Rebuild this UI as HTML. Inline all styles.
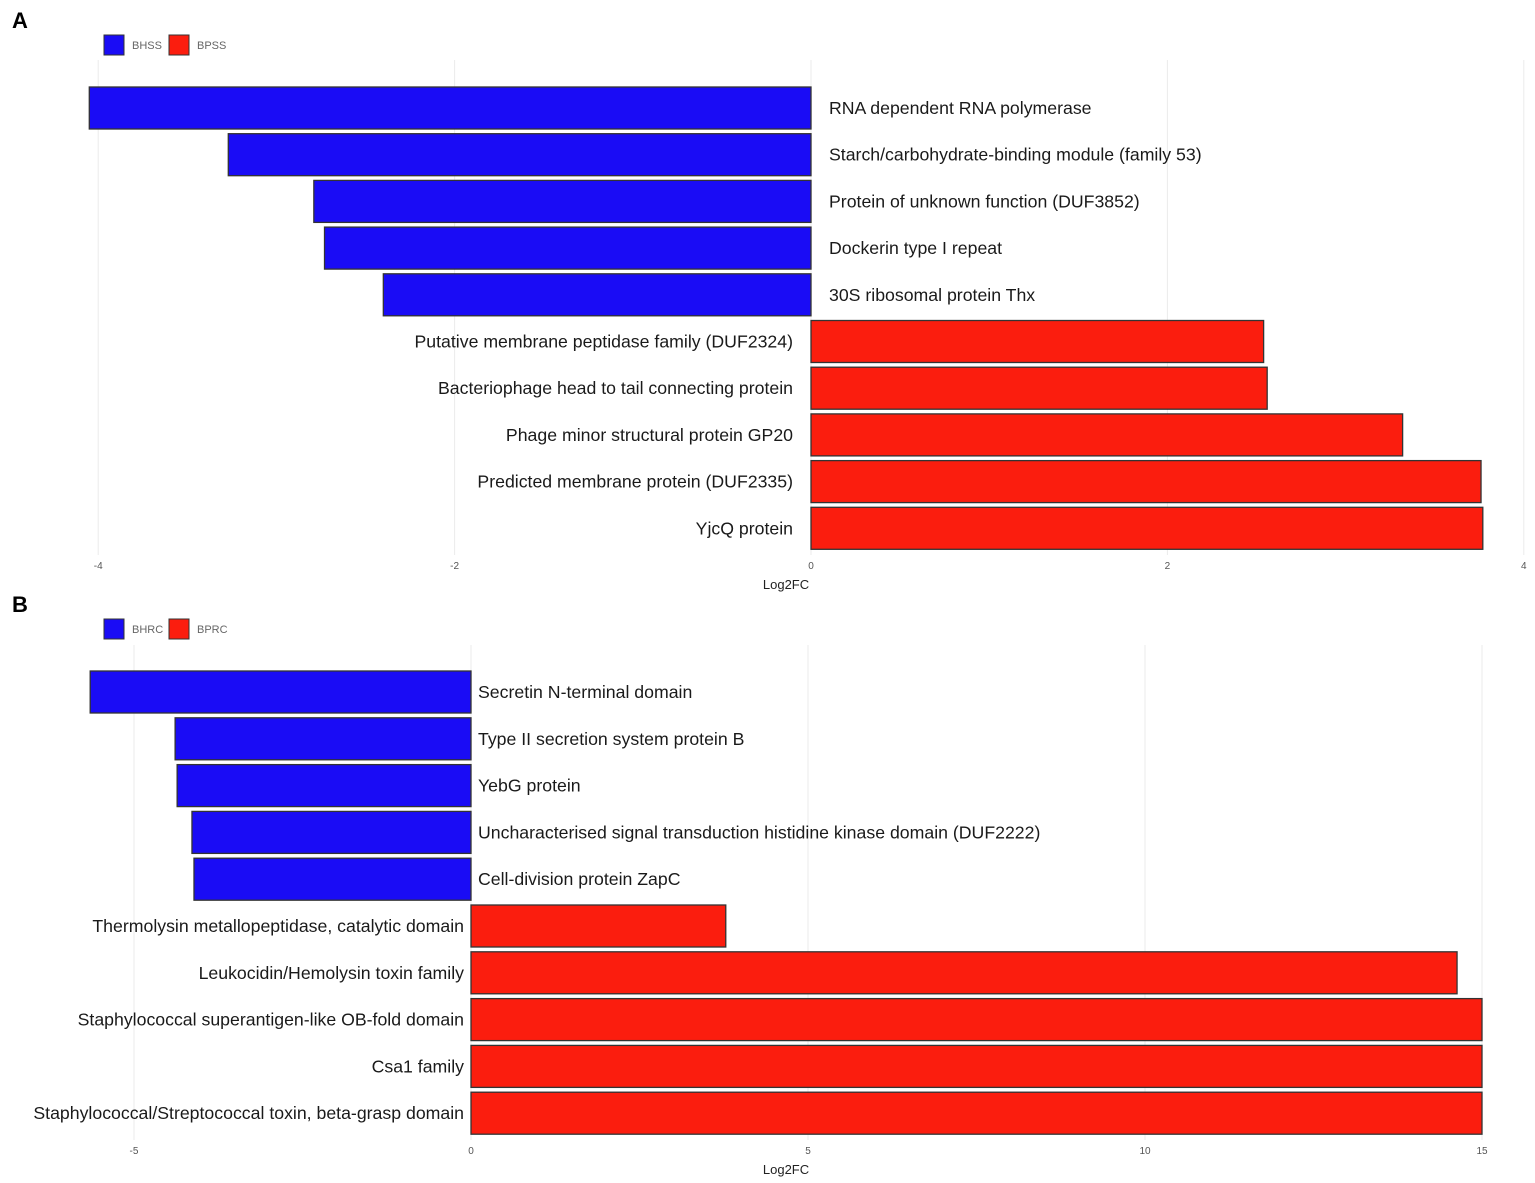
<!DOCTYPE html>
<html><head><meta charset="utf-8"><style>
html,body{margin:0;padding:0;background:#fff;}
svg{display:block;font-family:"Liberation Sans",Arial,sans-serif;}
</style></head><body>
<svg id="chart" width="1535" height="1183" viewBox="0 0 1535 1183" xmlns="http://www.w3.org/2000/svg">
<text x="12" y="28" font-size="22" font-weight="bold" fill="#000">A</text>
<text x="12" y="612" font-size="22" font-weight="bold" fill="#000">B</text>
</svg>
<script>
const catsA = ["RNA dependent RNA polymerase","Starch/carbohydrate-binding module (family 53)","Protein of unknown function (DUF3852)","Dockerin type I repeat","30S ribosomal protein Thx","Putative membrane peptidase family (DUF2324)","Bacteriophage head to tail connecting protein","Phage minor structural protein GP20","Predicted membrane protein (DUF2335)","YjcQ protein"];
const valsA = [-4.05,-3.27,-2.79,-2.73,-2.40,2.54,2.56,3.32,3.76,3.77];
const ticksA = [-4,-2,0,2,4];
const legendA = ["BHSS","BPSS"];
const catsB = ["Secretin N-terminal domain","Type II secretion system protein B","YebG protein","Uncharacterised signal transduction histidine kinase domain (DUF2222)","Cell-division protein ZapC","Thermolysin metallopeptidase, catalytic domain","Leukocidin/Hemolysin toxin family","Staphylococcal superantigen-like OB-fold domain","Csa1 family","Staphylococcal/Streptococcal toxin, beta-grasp domain"];
const valsB = [-5.65,-4.39,-4.36,-4.14,-4.11,3.78,14.63,15.0,15.0,15.0];
const ticksB = [-5,0,5,10,15];
const legendB = ["BHRC","BPRC"];

const NS="http://www.w3.org/2000/svg";
const svg=document.getElementById('chart');
function mk(tag,attrs,parent){const e=document.createElementNS(NS,tag);for(const k in attrs)e.setAttribute(k,attrs[k]);(parent||svg).appendChild(e);return e;}

function panel(id,cats,vals,ticks,legend,cfg){
  const g=mk('g',{});
  
  
  const x=v=>cfg.x0+(v-cfg.v0)*cfg.ppu;
  ticks.forEach(t=>{
    const gl=mk('line',{x1:x(t),x2:x(t),y1:cfg.top,y2:cfg.bottom,stroke:'#ebebeb','stroke-width':1},g);
    
    
    const tl=mk('text',{x:x(t),y:cfg.bottom+14,'font-size':10,fill:'#555','text-anchor':'middle'},g);
    tl.textContent=String(t);
    
    
  });
  const at=mk('text',{x:786,y:cfg.bottom+34,'font-size':13,fill:'#222','text-anchor':'middle'},g);
  at.textContent='Log2FC';
  
  
  const cols=['#1a0cf5','#fb1d0e'];
  legend.forEach((l,i)=>{
    const lx=104+i*65;
    const r=mk('rect',{x:lx,y:cfg.legY,width:20,height:20,fill:cols[i],stroke:'#333','stroke-width':1},g);
    
    
    const t=mk('text',{x:lx+28,y:cfg.legY+14,'font-size':11,fill:'#666'},g);
    t.textContent=l;
    
    
  });
  cats.forEach((c,i)=>{
    const v=vals[i];
    const cy=cfg.firstY+i*cfg.step;
    const x1=Math.min(x(0),x(v)), w=Math.abs(x(v)-x(0));
    const b=mk('rect',{x:x1,y:cy-21,width:w,height:42,fill:v<0?cols[0]:cols[1],stroke:'#333','stroke-width':1.3},g);
    
    
    const t=mk('text',{x:v<0?x(0)+cfg.lpad:x(0)-cfg.lpad,y:cy+6,'font-size':17.7,fill:'#1a1a1a','text-anchor':v<0?'start':'end'},g);
    t.textContent=c;
    
    
  });
}
panel('panel-a-chart',catsA,valsA,ticksA,legendA,{x0:811,v0:0,ppu:178.2,top:60,bottom:555,firstY:108,step:46.7,legY:35,lpad:18});
panel('panel-b-chart',catsB,valsB,ticksB,legendB,{x0:471,v0:0,ppu:67.4,top:645,bottom:1140,firstY:692,step:46.8,legY:619,lpad:7});
</script>
</body></html>
